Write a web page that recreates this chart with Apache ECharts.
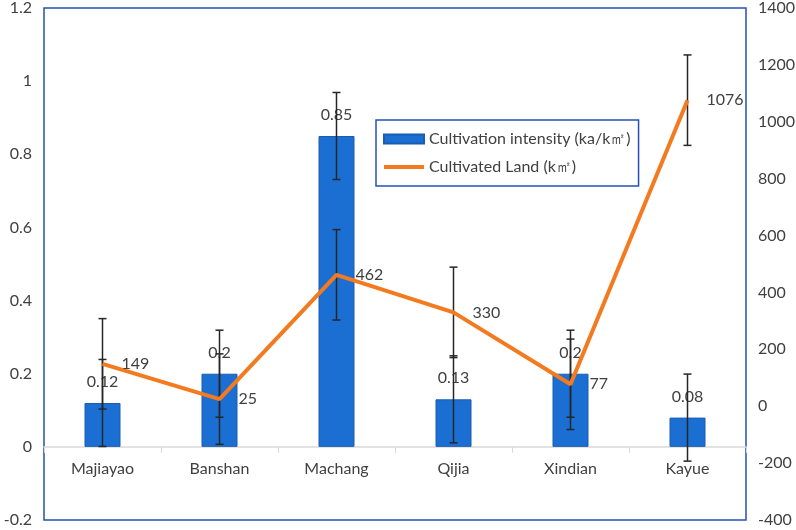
<!DOCTYPE html>
<html>
<head>
<meta charset="utf-8">
<script src="https://cdn.jsdelivr.net/npm/echarts@6/dist/echarts.min.js"></script>
<style>
html, body { margin: 0; padding: 0; background: #ffffff; }
#chart_div { width: 796px; height: 530px; }
</style>
</head>
<body>
<div id="chart_div"></div>
<script>
// categories and values
var cultures = ['Majiayao', 'Banshan', 'Machang', 'Qijia', 'Xindian', 'Kayue'];
var intensity = [0.12, 0.2, 0.85, 0.13, 0.2, 0.08];
var intensity_err = [0.119, 0.119, 0.119, 0.119, 0.119, 0.119];
var land = [149, 25, 462, 330, 77, 1076];
var land_err = [159, 159, 159, 159, 159, 159];

var name_bar = 'Cultivation intensity (ka/k㎡)';
var name_line = 'Cultivated Land (k㎡)';

var font_name = 'Lato';
var text_color = '#404040';
var frame_color = '#2452b4';

var y_min = -0.2, y_max = 1.2;
var grid_top = 8, grid_bottom = 10, chart_h = 530;

// [index, low, high] rows for the error bar series
function f_err_rows(values, errs) {
	var rows = [];
	for (var i = 0; i < values.length; i++) {
		rows.push([i, values[i] - errs[i], values[i] + errs[i]]);
	}
	return rows;
}

function f_err_render(params, api) {
	var x = api.value(0);
	var p_low = api.coord([x, api.value(1)]);
	var p_high = api.coord([x, api.value(2)]);
	var half = 4;
	var t_style = { stroke: '#262626', lineWidth: 1.5 };
	return {
		type: 'group',
		children: [
			{ type: 'line', shape: { x1: p_low[0], y1: p_low[1], x2: p_high[0], y2: p_high[1] }, style: t_style },
			{ type: 'line', shape: { x1: p_high[0] - half, y1: p_high[1], x2: p_high[0] + half, y2: p_high[1] }, style: t_style },
			{ type: 'line', shape: { x1: p_low[0] - half, y1: p_low[1], x2: p_low[0] + half, y2: p_low[1] }, style: t_style }
		]
	};
}

// the category axis sits on the zero line, labels included
var grid_h = chart_h - grid_top - grid_bottom;
var x_offset = -grid_h * (0 - y_min) / (y_max - y_min);

var chart = echarts.init(document.getElementById('chart_div'));

chart.setOption({
	backgroundColor: '#ffffff',
	animation: false,
	textStyle: { fontFamily: font_name },
	grid: {
		left: 44, right: 50, top: grid_top, bottom: grid_bottom,
		outerBoundsMode: 'none',
		containLabel: false,
		show: true, borderColor: frame_color, borderWidth: 1.5
	},
	legend: {
		orient: 'vertical',
		left: 376, top: 120,
		padding: [11, 8, 11, 6],
		itemGap: 12,
		itemWidth: 40, itemHeight: 9,
		borderColor: frame_color, borderWidth: 1.5,
		backgroundColor: '#ffffff',
		textStyle: { fontFamily: font_name, fontSize: 16, color: text_color },
		data: [
			{ name: name_bar, icon: 'rect' },
			{ name: name_line, itemStyle: { opacity: 0 }, lineStyle: { width: 4 } }
		]
	},
	xAxis: {
		type: 'category',
		data: cultures,
		boundaryGap: true,
		offset: x_offset,
		axisLine: { show: true, onZero: false, lineStyle: { color: '#d9d9d9', width: 1.5 } },
		axisTick: { show: true, length: 6, lineStyle: { color: '#d9d9d9' } },
		axisLabel: { fontSize: 16, color: text_color, margin: 14, fontFamily: font_name },
		splitLine: { show: false }
	},
	yAxis: [
		{
			type: 'value', min: y_min, max: y_max, interval: 0.2,
			axisLine: { show: false }, axisTick: { show: false },
			splitLine: { show: false },
			axisLabel: {
				fontSize: 16, color: text_color, margin: 12, fontFamily: font_name,
				formatter: function (v) { return String(parseFloat(v.toFixed(1))); }
			}
		},
		{
			type: 'value', min: -400, max: 1400, interval: 200,
			axisLine: { show: false }, axisTick: { show: false },
			splitLine: { show: false },
			axisLabel: {
				fontSize: 16, color: text_color, margin: 12, fontFamily: font_name,
				formatter: function (v) { return String(v); }
			}
		}
	],
	series: [
		{
			name: name_bar,
			type: 'bar',
			yAxisIndex: 0,
			data: intensity,
			barWidth: 36,
			itemStyle: { color: '#1b6fd3', borderColor: '#1a5db0', borderWidth: 1 },
			label: {
				show: true, position: 'top', distance: 13,
				fontSize: 16, color: text_color, fontFamily: font_name
			},
			z: 2
		},
		{
			type: 'custom',
			yAxisIndex: 0,
			renderItem: f_err_render,
			data: f_err_rows(intensity, intensity_err),
			encode: { x: 0, y: [1, 2] },
			silent: true,
			z: 3
		},
		{
			type: 'custom',
			yAxisIndex: 1,
			renderItem: f_err_render,
			data: f_err_rows(land, land_err),
			encode: { x: 0, y: [1, 2] },
			silent: true,
			z: 3
		},
		{
			name: name_line,
			type: 'line',
			yAxisIndex: 1,
			data: land,
			symbol: 'circle',
			symbolSize: 0.01,
			showSymbol: true,
			lineStyle: { color: '#f47a20', width: 4 },
			itemStyle: { color: '#f47a20' },
			label: {
				show: true, position: 'right', distance: 19,
				fontSize: 16, color: text_color, fontFamily: font_name
			},
			z: 4
		}
	]
});
</script>
</body>
</html>
